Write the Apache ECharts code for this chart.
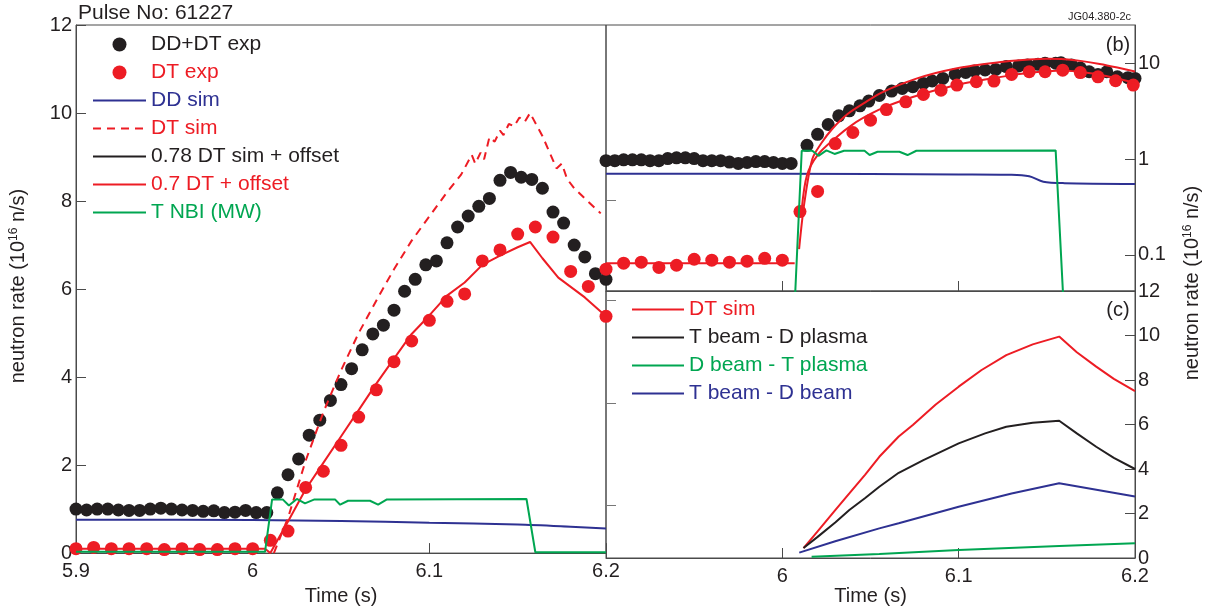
<!DOCTYPE html>
<html>
<head>
<meta charset="utf-8">
<script src="https://cdn.jsdelivr.net/npm/echarts@6/dist/echarts.min.js"></script>
<style>
  html, body { margin: 0; padding: 0; background: #ffffff; }
  #chart { width: 1211px; height: 611px; }
</style>
</head>
<body>
<div id="chart"></div>
<script>
// ---------- Panel (a): linear neutron rate, pulse 61227 ----------
const tBlackA = [5.900,5.906,5.912,5.918,5.924,5.930,5.936,5.942,5.948,5.954,5.960,5.966,5.972,5.978,5.984,5.990,5.996,6.002,6.008,
  6.014,6.020,6.026,6.032,6.038,6.044,6.050,6.056,6.062,6.068,6.074,6.080,6.086,6.092,6.098,6.104,6.110,6.116,6.122,6.128,6.134,
  6.140,6.146,6.152,6.158,6.164,6.170,6.176,6.182,6.188,6.194,6.200];
const vBlackA = [1.00,0.98,1.00,1.00,0.98,0.97,0.97,1.00,1.02,1.00,0.98,0.97,0.95,0.96,0.92,0.93,0.97,0.92,0.92,
  1.37,1.78,2.14,2.68,3.02,3.47,3.83,4.19,4.62,4.98,5.18,5.52,5.95,6.22,6.55,6.64,7.05,7.41,7.66,7.88,8.06,
  8.47,8.65,8.54,8.49,8.29,7.75,7.50,7.00,6.73,6.35,6.22];

const tRedA = [5.90,5.91,5.92,5.93,5.94,5.95,5.96,5.97,5.98,5.99,6.00,6.01,6.02,6.03,6.04,6.05,6.06,6.07,6.08,6.09,
  6.10,6.11,6.12,6.13,6.14,6.15,6.16,6.17,6.18,6.19,6.20];
const vRedA = [0.10,0.13,0.10,0.10,0.10,0.08,0.10,0.08,0.08,0.10,0.10,0.29,0.50,1.49,1.86,2.45,3.09,3.71,4.35,4.82,
  5.29,5.72,5.89,6.64,6.89,7.25,7.41,7.18,6.40,6.06,5.38];

const tDdA = [5.90,6.00,6.05,6.10,6.15,6.18,6.20];
const vDdA = [0.76,0.75,0.73,0.69,0.65,0.60,0.56];

const tDtSimA = [6.012,6.020,6.030,6.040,6.050,6.060,6.071,6.080,6.090,6.100,6.110,6.118,6.124,6.126,6.129,6.131,6.134,
  6.137,6.140,6.142,6.145,6.148,6.151,6.154,6.157,6.164,6.172,6.175,6.178,6.182,6.188,6.197];
const vDtSimA = [0.00,0.80,2.10,3.20,4.15,5.00,5.81,6.45,7.10,7.65,8.20,8.60,9.05,8.85,9.10,8.95,9.45,9.35,9.60,9.50,
  9.75,9.70,9.90,9.80,10.00,9.48,8.74,8.85,8.50,8.29,8.06,7.72];

const tFitA = [5.900,6.000,6.007,6.010,6.020,6.030,6.040,6.050,6.060,6.070,6.080,6.090,6.100,6.110,6.120,6.130,6.140,
  6.150,6.157,6.164,6.173,6.188,6.200];
const vFitA = [0.10,0.10,0.10,0.00,0.72,1.45,2.05,2.65,3.25,3.85,4.42,4.98,5.40,5.85,6.15,6.55,6.76,6.95,7.07,6.70,
  6.26,5.81,5.38];

// T NBI power (MW), shared by panels (a) and (b)
const tNbi = [5.900,6.007,6.011,6.017,6.0205,6.025,6.0296,6.035,6.0466,6.0495,6.054,6.0664,6.071,6.076,6.155,6.160,6.200];
const vNbi = [0.03,0.03,1.22,1.22,1.08,1.23,1.13,1.22,1.22,1.10,1.19,1.19,1.10,1.22,1.23,0.02,0.02];

// ---------- Panel (b): log neutron rate ----------
const tBlackB = [5.900,5.905,5.910,5.915,5.920,5.925,5.930,5.935,5.940,5.945,5.950,5.955,5.960,5.965,5.970,5.975,5.980,
  5.985,5.990,5.995,6.000,6.005,
  6.014,6.020,6.026,6.032,6.038,6.044,6.049,6.055,6.062,6.068,6.074,6.080,6.085,6.091,6.098,6.104,6.109,6.115,6.121,
  6.127,6.134,6.139,6.145,6.149,6.155,6.158,6.164,6.169,6.174,6.179,6.184,6.190,6.196,6.200];
const vBlackB = [0.96,0.96,0.98,0.98,0.98,0.96,0.96,1.01,1.03,1.03,1.01,0.96,0.96,0.96,0.93,0.90,0.92,0.94,0.94,0.92,
  0.90,0.90,
  1.39,1.81,2.29,2.82,3.18,3.59,4.02,4.60,5.11,5.44,5.67,6.15,6.51,6.93,7.63,8.01,8.28,8.48,8.61,9.20,9.35,9.58,9.73,
  9.97,9.97,10.10,9.58,8.90,8.13,7.63,8.13,7.20,7.05,6.93];

const tRedB = [5.90,5.91,5.92,5.93,5.94,5.95,5.96,5.97,5.98,5.99,6.00,6.010,6.020,6.030,6.040,6.050,6.059,6.070,6.080,
  6.090,6.099,6.110,6.120,6.130,6.140,6.149,6.159,6.169,6.179,6.189,6.199];
const vRedB = [0.071,0.082,0.084,0.074,0.078,0.090,0.088,0.084,0.086,0.092,0.088,0.283,0.459,1.45,1.89,2.54,3.28,3.95,
  4.71,5.23,5.90,6.40,6.50,7.63,8.13,8.13,8.45,7.97,7.20,6.55,5.90];

const tUpB = [6.0095,6.0125,6.017,6.022,6.0285,6.037,6.0475,6.056,6.066,6.076,6.087,6.097,6.106,6.117,6.129,6.140,
  6.150,6.160,6.170,6.180,6.190,6.200];
const vUpB = [0.115,0.35,1.0,1.45,2.08,2.95,3.95,4.9,5.9,6.9,7.9,8.7,9.3,9.9,10.5,10.9,11.1,11.0,10.5,9.8,9.0,8.2];

const tLoB = [5.900,6.007,6.009,6.011,6.014,6.020,6.030,6.040,6.050,6.060,6.070,6.080,6.090,6.100,6.110,6.120,6.130,
  6.140,6.150,6.159,6.168,6.178,6.190,6.200];
const vLoB = [0.082,0.082,null,0.30,0.68,1.10,1.65,2.30,2.95,3.60,4.20,4.80,5.40,6.00,6.50,7.00,7.50,7.95,8.25,8.40,
  8.15,7.70,6.90,6.20];

const tDdB = [5.90,6.00,6.10,6.13,6.14,6.148,6.16,6.20];
const vDdB = [0.70,0.70,0.69,0.685,0.66,0.58,0.56,0.55];

// ---------- Panel (c): DT neutron rate components ----------
const tSimC = [6.012,6.020,6.030,6.038,6.047,6.055,6.066,6.074,6.087,6.100,6.113,6.127,6.142,6.157,6.167,6.178,6.188,6.200];
const vSimC = [0.44,1.20,2.15,2.90,3.75,4.55,5.46,5.98,6.90,7.70,8.45,9.12,9.60,9.95,9.25,8.60,8.05,7.50];

const tTbDp = [6.012,6.020,6.030,6.038,6.047,6.055,6.066,6.080,6.100,6.115,6.127,6.142,6.157,6.167,6.178,6.188,6.200];
const vTbDp = [0.45,0.95,1.60,2.16,2.70,3.20,3.83,4.40,5.15,5.60,5.90,6.08,6.17,5.60,5.00,4.50,4.00];

const tDbTp = [6.0166,6.055,6.100,6.157,6.200];
const vDbTp = [0.06,0.18,0.36,0.54,0.66];

const tTbDb = [6.0096,6.030,6.055,6.066,6.100,6.130,6.157,6.200];
const vTbDb = [0.24,0.75,1.33,1.56,2.30,2.90,3.36,2.76];

// Unlabelled tick marks on the shared left edge of panels (b) and (c)
const leftTicksB = [0.37];
const leftTicksC = [2.35, 6.97, 11.6];

// ---------- drawing ----------
const FONT = '"Liberation Sans", Arial, Helvetica, sans-serif';
const BLACK = '#231f20', RED = '#ed1c24', BLUE = '#2e3192', GREEN = '#00a651', FRAME = '#4a4a4a';
const pairs = (t, v) => t.map((x, i) => [x, v[i]]);
const timeLabel = (v) => String(parseFloat(Number(v).toFixed(2)));

const chart = echarts.init(document.getElementById('chart'), null, { renderer: 'canvas' });

const gridBox = { show: true, borderColor: FRAME, borderWidth: 1, backgroundColor: 'transparent' };
const tickStyle = { lineStyle: { color: FRAME, width: 1 } };

function timeAxis(grid, labels, extra) {
  return Object.assign({
    gridIndex: grid, type: 'value', min: 5.9, max: 6.2, interval: 0.1,
    axisLine: { show: true, lineStyle: { color: FRAME, width: 1 } },
    axisTick: Object.assign({ inside: true, length: 10 }, tickStyle),
    axisLabel: { show: labels, fontSize: 20, color: BLACK, margin: 8, fontFamily: FONT, formatter: timeLabel },
    splitLine: { show: false }
  }, extra || {});
}

function lineSeries(name, t, v, color, xi, yi, extra) {
  return Object.assign({
    name, type: 'line', xAxisIndex: xi, yAxisIndex: yi, data: pairs(t, v),
    symbol: 'none', lineStyle: { color, width: 2 }, itemStyle: { color }, z: 3, connectNulls: false
  }, extra || {});
}

function dotSeries(name, t, v, color, xi, yi) {
  return {
    name, type: 'scatter', xAxisIndex: xi, yAxisIndex: yi, data: pairs(t, v),
    symbol: 'circle', symbolSize: 13, itemStyle: { color, opacity: 1 }, z: 2
  };
}

// legend entries drawn as a plain line (no marker on the line)
const lineEntry = (name, color) => ({ name, textStyle: { color }, itemStyle: { opacity: 0 } });
const dotEntry = (name, color) => ({ name, textStyle: { color } });

const rateName = 'neutron rate (10{sup|16} n/s)';
const rateRich = { sup: { fontSize: 12, verticalAlign: 'top', fontFamily: FONT, fill: BLACK } };

const option = {
  animation: false,
  backgroundColor: '#ffffff',
  textStyle: { fontFamily: FONT },
  title: [
    { text: 'Pulse No: 61227', left: 78, top: 3, padding: 0,
      textStyle: { fontSize: 21, fontWeight: 'normal', color: BLACK, fontFamily: FONT } },
    { text: 'JG04.380-2c', right: 80, top: 11, padding: 0,
      textStyle: { fontSize: 11, fontWeight: 'normal', color: BLACK, fontFamily: FONT } }
  ],
  grid: [
    Object.assign({ left: 76, top: 25, width: 530, height: 533 }, gridBox),
    Object.assign({ left: 606, top: 25, width: 529, height: 266 }, gridBox),
    Object.assign({ left: 606, top: 291, width: 529, height: 267 }, gridBox)
  ],
  xAxis: [
    timeAxis(0, true, { name: 'Time (s)', nameLocation: 'middle', nameGap: 28,
      nameTextStyle: { fontSize: 20, color: BLACK, fontFamily: FONT } }),
    timeAxis(1, false),
    timeAxis(2, true, { name: 'Time (s)', nameLocation: 'middle', nameGap: 28,
      nameTextStyle: { fontSize: 20, color: BLACK, fontFamily: FONT },
      axisLabel: { show: true, fontSize: 20, color: BLACK, margin: 8, fontFamily: FONT,
        // the left end is already labelled "6.2" by panel (a)
        formatter: (v) => (Math.abs(v - 5.9) < 1e-6 ? '' : timeLabel(v)) } })
  ],
  yAxis: [
    { gridIndex: 0, type: 'value', min: 0, max: 12, interval: 2, position: 'left',
      axisLine: { show: true, lineStyle: { color: FRAME } },
      axisTick: Object.assign({ inside: true, length: 10 }, tickStyle),
      axisLabel: { fontSize: 20, color: BLACK, margin: 4, fontFamily: FONT },
      splitLine: { show: false } },
    { gridIndex: 1, type: 'log', logBase: 10, min: 0.042, max: 25, position: 'right',
      axisLine: { show: true, lineStyle: { color: FRAME } },
      axisTick: Object.assign({ inside: true, length: 10 }, tickStyle),
      minorTick: { show: false },
      axisLabel: { fontSize: 20, color: BLACK, margin: 3, fontFamily: FONT, showMinLabel: false, showMaxLabel: false },
      splitLine: { show: false } },
    { gridIndex: 2, type: 'value', min: 0, max: 12, interval: 2, position: 'right',
      axisLine: { show: true, lineStyle: { color: FRAME } },
      axisTick: Object.assign({ inside: true, length: 10 }, tickStyle),
      axisLabel: { fontSize: 20, color: BLACK, margin: 3, fontFamily: FONT },
      splitLine: { show: false } },
    { gridIndex: 1, type: 'log', logBase: 10, min: 0.042, max: 25, position: 'left',
      axisLine: { show: false },
      axisTick: { show: true, inside: true, length: 10, customValues: leftTicksB, lineStyle: { color: '#777' } },
      axisLabel: { show: false }, splitLine: { show: false } },
    { gridIndex: 2, type: 'value', min: 0, max: 12, position: 'left',
      axisLine: { show: false },
      axisTick: { show: true, inside: true, length: 10, customValues: leftTicksC, lineStyle: { color: '#777' } },
      axisLabel: { show: false }, splitLine: { show: false } }
  ],
  legend: [
    { left: 92, top: 34, padding: 0, orient: 'vertical', itemWidth: 53, itemHeight: 14, itemGap: 7,
      selectedMode: false, symbolKeepAspect: true,
      textStyle: { fontSize: 21, fontFamily: FONT },
      data: [
        dotEntry('DD+DT exp', BLACK),
        dotEntry('DT exp', RED),
        lineEntry('DD sim', BLUE),
        lineEntry('DT sim', RED),
        lineEntry('0.78 DT sim + offset', BLACK),
        lineEntry('0.7 DT + offset', RED),
        lineEntry('T NBI (MW)', GREEN)
      ] },
    { left: 631, top: 299, padding: 0, orient: 'vertical', itemWidth: 52, itemHeight: 14, itemGap: 7,
      selectedMode: false,
      textStyle: { fontSize: 21, fontFamily: FONT },
      formatter: (n) => (n === 'DT sim total' ? 'DT sim' : n),
      data: [
        lineEntry('DT sim total', RED),
        lineEntry('T beam - D plasma', BLACK),
        lineEntry('D beam - T plasma', GREEN),
        lineEntry('T beam - D beam', BLUE)
      ] }
  ],
  graphic: [
    { type: 'text', x: 18, y: 286, rotation: Math.PI / 2,
      style: { text: rateName, fontSize: 20, fontFamily: FONT, fill: BLACK, align: 'center', verticalAlign: 'middle', rich: rateRich } },
    { type: 'text', x: 1192, y: 283, rotation: Math.PI / 2,
      style: { text: rateName, fontSize: 20, fontFamily: FONT, fill: BLACK, align: 'center', verticalAlign: 'middle', rich: rateRich } },
    { type: 'text', x: 1118, y: 45,
      style: { text: '(b)', fontSize: 20, fontFamily: FONT, fill: BLACK, align: 'center', verticalAlign: 'middle' } },
    { type: 'text', x: 1118, y: 310,
      style: { text: '(c)', fontSize: 20, fontFamily: FONT, fill: BLACK, align: 'center', verticalAlign: 'middle' } }
  ],
  series: [
    // panel (a)
    dotSeries('DD+DT exp', tBlackA, vBlackA, BLACK, 0, 0),
    dotSeries('DT exp', tRedA, vRedA, RED, 0, 0),
    lineSeries('DD sim', tDdA, vDdA, BLUE, 0, 0, { smooth: 0.3 }),
    lineSeries('DT sim', tDtSimA, vDtSimA, RED, 0, 0, { lineStyle: { color: RED, width: 2, type: [8, 6] } }),
    lineSeries('0.78 DT sim + offset', [], [], BLACK, 0, 0),
    lineSeries('0.7 DT + offset', tFitA, vFitA, RED, 0, 0),
    lineSeries('T NBI (MW)', tNbi, vNbi, GREEN, 0, 0),
    // panel (b)
    dotSeries('DD+DT exp', tBlackB, vBlackB, BLACK, 1, 1),
    dotSeries('DT exp', tRedB, vRedB, RED, 1, 1),
    lineSeries('DD sim', tDdB, vDdB, BLUE, 1, 1, { smooth: 0.3 }),
    lineSeries('0.78 DT sim + offset', tUpB, vUpB, RED, 1, 1, { smooth: 0.3 }),
    lineSeries('0.7 DT + offset', tLoB, vLoB, RED, 1, 1, { smooth: 0.3 }),
    lineSeries('T NBI (MW)', tNbi, vNbi, GREEN, 1, 1),
    // panel (c)
    lineSeries('DT sim total', tSimC, vSimC, RED, 2, 2),
    lineSeries('T beam - D plasma', tTbDp, vTbDp, BLACK, 2, 2),
    lineSeries('D beam - T plasma', tDbTp, vDbTp, GREEN, 2, 2),
    lineSeries('T beam - D beam', tTbDb, vTbDb, BLUE, 2, 2)
  ]
};

chart.setOption(option);
</script>
</body>
</html>
